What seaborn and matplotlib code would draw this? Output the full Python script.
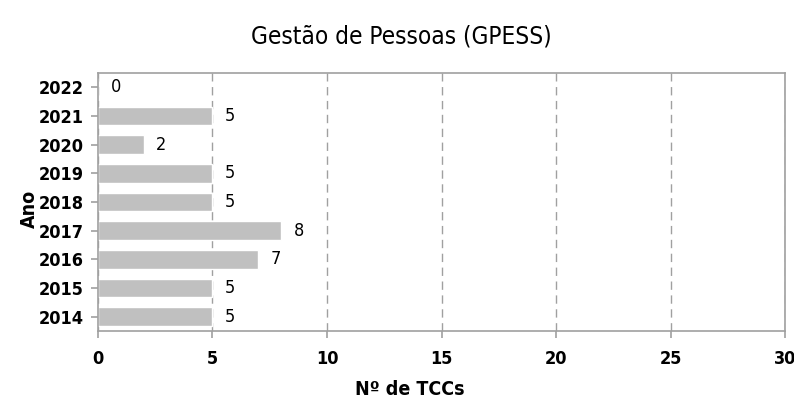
import matplotlib
matplotlib.use("Agg")
import matplotlib.pyplot as plt
import seaborn as sns
import pandas as pd

sns.set_style("white")
plt.rcParams['font.family'] = ['DejaVu Sans']
plt.rcParams['font.stretch'] = 'condensed'
plt.rcParams['text.color'] = 'black'
plt.rcParams['axes.labelcolor'] = 'black'
plt.rcParams['xtick.color'] = 'black'
plt.rcParams['ytick.color'] = 'black'

# data
anos = ['2022', '2021', '2020', '2019', '2018', '2017', '2016', '2015', '2014']
tccs = [0, 5, 2, 5, 5, 8, 7, 5, 5]
xticks = [0, 5, 10, 15, 20, 25, 30]

df = pd.DataFrame({'Ano': anos, 'TCCs': tccs})

fig = plt.figure(figsize=(7.94, 4.01), dpi=100)
ax = fig.add_axes([0.1234, 0.1746, 0.8653, 0.6434])

sns.barplot(data=df, x='TCCs', y='Ano', order=anos, color='#c0c0c0',
            saturation=1, width=0.65, ax=ax)

for cont in ax.containers:
    ax.bar_label(cont, padding=9, fontsize=13, color='black')

ax.set_xlim(0, 30)
ax.set_xticks(xticks)
ax.set_xticklabels([str(t) for t in xticks], fontsize=13, fontweight='bold')
for lab in ax.get_yticklabels():
    lab.set_fontsize(13)
    lab.set_fontweight('bold')

ax.xaxis.grid(True, linestyle=(0, (6, 4)), color='#a0a0a0', linewidth=1)
ax.set_axisbelow(True)
for s in ax.spines.values():
    s.set_color('#a0a0a0')
    s.set_linewidth(1.2)

ax.tick_params(axis='x', direction='out', length=5, color='#a0a0a0', width=1.2,
               labelcolor='black', bottom=True, pad=9)
ax.tick_params(axis='y', direction='out', length=5, color='#a0a0a0', width=1.2,
               labelcolor='black', left=True, pad=5)

ax.set_xlabel('Nº de TCCs', fontsize=14, fontweight='bold', labelpad=8, x=0.454)
ax.set_ylabel('Ano', fontsize=14, fontweight='bold', labelpad=0, y=0.473)
fig.suptitle('Gestão de Pessoas (GPESS)', fontsize=17.5, x=0.505, y=0.94)

fig.savefig('out.png', dpi=100)
